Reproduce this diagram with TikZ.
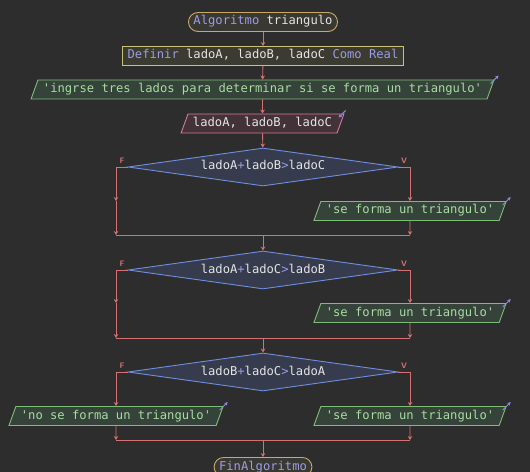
\documentclass[tikz,border=0pt]{standalone}
\usepackage{fontspec}
\setmonofont{DejaVu Sans Mono}
\usetikzlibrary{shapes.geometric,arrows.meta,calc}
\definecolor{fondo}{HTML}{2D2D2D}
\definecolor{conector}{HTML}{D47272}
\definecolor{texto}{HTML}{E4E4E4}
\definecolor{clave}{HTML}{9C9CE6}
\definecolor{bordeIni}{HTML}{C9A86A}
\definecolor{rellenoIni}{HTML}{3A3833}
\definecolor{bordeDef}{HTML}{C8C27A}
\definecolor{rellenoDef}{HTML}{3B3B31}
\definecolor{bordeSal}{HTML}{7DBD78}
\definecolor{rellenoSal}{HTML}{35433A}
\definecolor{textoSal}{HTML}{A8DCA0}
\definecolor{bordeEnt}{HTML}{D47A9C}
\definecolor{rellenoEnt}{HTML}{433339}
\definecolor{bordeDec}{HTML}{6F8EE0}
\definecolor{rellenoDec}{HTML}{363C4D}
\definecolor{iconoC}{HTML}{8A8AE6}
\newcommand{\kw}[1]{\textcolor{clave}{#1}}
\tikzset{
  base/.style={font=\ttfamily\fontsize{12.2}{14}\selectfont, text=texto,
    text height=9bp, text depth=3bp, inner ysep=3.5bp, inner xsep=5bp, line width=0.9bp},
  inicio/.style={base, rectangle, rounded corners=9.5bp, draw=bordeIni, fill=rellenoIni},
  definir/.style={base, rectangle, draw=bordeDef, fill=rellenoDef},
  paralelo/.style={base, trapezium, trapezium left angle=70, trapezium right angle=110},
  salida/.style={paralelo, draw=bordeSal, fill=rellenoSal, text=textoSal},
  entrada/.style={paralelo, draw=bordeEnt, fill=rellenoEnt},
  decision/.style={base, diamond, aspect=7, inner sep=0pt, minimum width=270bp,
    minimum height=38bp, draw=bordeDec, fill=rellenoDec},
  tramo/.style={draw=conector, line width=0.9bp},
  flecha/.style={tramo, -{Stealth[length=4bp,width=4.5bp]}},
  rotulo/.style={font=\sffamily\bfseries\fontsize{8}{9}\selectfont, text=conector, inner sep=0pt},
  icono/.style={draw=iconoC, line width=1bp, -{Stealth[length=3.5bp,width=3.5bp]}},
}
\begin{document}
\begin{tikzpicture}[x=1bp, y=-1bp]
    \useasboundingbox (0,0) rectangle (530,472);
    \fill[fondo] (0,0) rectangle (530,472);
    % bloque principal
    \node[inicio] (ini) at (263,22) {\kw{Algoritmo} triangulo};
    \node[definir] (def) at (263,56) {\kw{Definir} ladoA, ladoB, ladoC \kw{Como Real}};
    \node[salida] (msj) at (262.5,89.5) {'ingrse tres lados para determinar si se forma un triangulo'};
    \node[entrada] (leer) at (262.5,123.5) {ladoA, ladoB, ladoC};
    \draw[icono] ($(msj.top right corner)+(-4,4)$) -- ($(msj.top right corner)+(4,-4)$);
    \draw[icono] ($(leer.top right corner)+(1,-3)$) -- ($(leer.top right corner)+(-6,4)$);
    \draw[flecha] (ini) -- (def);
    \draw[flecha] (def) -- (msj);
    \draw[flecha] (msj) -- (leer);
    % primera condicion
    \node[decision] (d1) at (263,167) {ladoA\kw{+}ladoB\kw{>}ladoC};
    \node[salida] (s1) at (410,211) {'se forma un triangulo'};
    \node[rotulo] (f1) at (122,161) {F};
    \node[rotulo] (v1) at (404,161) {V};
    \coordinate (e1) at (116,201);
    \coordinate (c1l) at (116,235);
    \coordinate (c1r) at (410,235);
    \coordinate (j1) at (263,235);
    \draw[flecha] (leer) -- (d1);
    \draw[flecha] (d1.west) -| (e1);
    \draw[flecha] (e1) -- (c1l);
    \draw[flecha] (d1.east) -| (s1.north);
    \draw[flecha] (s1.south) -- (c1r);
    \draw[tramo] (c1l) -- (c1r);
    % segunda condicion
    \node[decision] (d2) at (263,270) {ladoA\kw{+}ladoC\kw{>}ladoB};
    \node[salida] (s2) at (410,313) {'se forma un triangulo'};
    \node[rotulo] (f2) at (122,264) {F};
    \node[rotulo] (v2) at (404,264) {V};
    \coordinate (e2) at (116,303);
    \coordinate (c2l) at (116,338);
    \coordinate (c2r) at (410,338);
    \coordinate (j2) at (263,338);
    \draw[flecha] (j1) -- (d2);
    \draw[flecha] (d2.west) -| (e2);
    \draw[flecha] (e2) -- (c2l);
    \draw[flecha] (d2.east) -| (s2.north);
    \draw[flecha] (s2.south) -- (c2r);
    \draw[tramo] (c2l) -- (c2r);
    % tercera condicion
    \node[decision] (d3) at (263,372) {ladoB\kw{+}ladoC\kw{>}ladoA};
    \node[salida] (s3n) at (116,416) {'no se forma un triangulo'};
    \node[salida] (s3) at (410,416) {'se forma un triangulo'};
    \node[rotulo] (f3) at (122,366) {F};
    \node[rotulo] (v3) at (404,366) {V};
    \coordinate (c3l) at (116,440);
    \coordinate (c3r) at (410,440);
    \coordinate (j3) at (263,440);
    \draw[flecha] (j2) -- (d3);
    \draw[flecha] (d3.west) -| (s3n.north);
    \draw[flecha] (s3n.south) -- (c3l);
    \draw[flecha] (d3.east) -| (s3.north);
    \draw[flecha] (s3.south) -- (c3r);
    \draw[tramo] (c3l) -- (c3r);
    \foreach \s in {s1,s2,s3,s3n}{
        \draw[icono] ($(\s.top right corner)+(-4,4)$) -- ($(\s.top right corner)+(4,-4)$);
    }
    % fin
    \node[inicio] (fin) at (263,467) {\kw{FinAlgoritmo}};
    \draw[flecha] (j3) -- (fin);
\end{tikzpicture}
\end{document}
